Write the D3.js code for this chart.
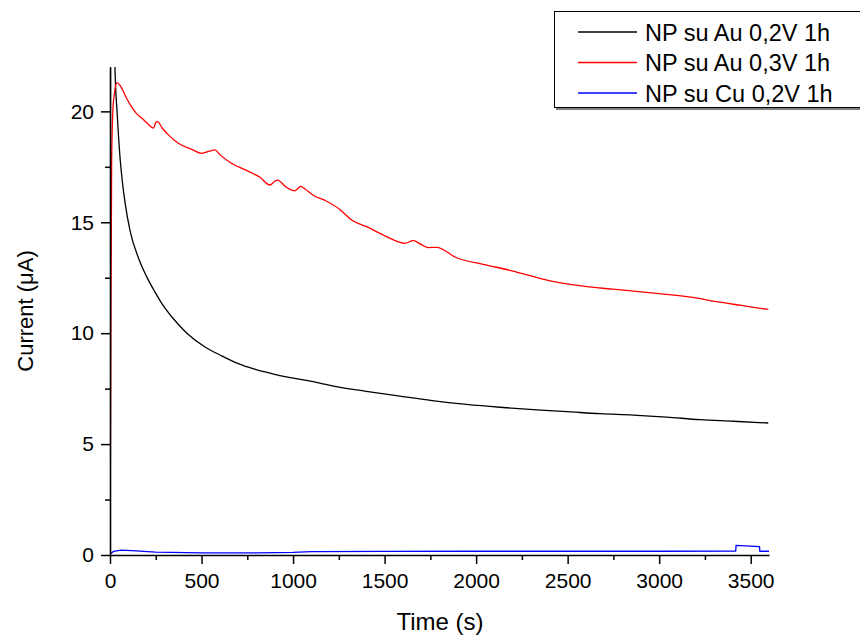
<!DOCTYPE html>
<html>
<head>
<meta charset="utf-8">
<script src="https://cdn.jsdelivr.net/npm/d3@7"></script>
<style>
  body { margin: 0; background: #fff; }
  text { font-family: Arial, "Liberation Sans", sans-serif; }
</style>
</head>
<body>
<div id="chart"></div>
<script>
// series: [time (s), current (uA)]
var auLow = [
    [0, 0], [3, 26], [8, 30], [18, 26], [27, 22], [40, 19.8], [55, 17.9], [68, 16.8],
    [82, 15.9], [110, 14.6], [155, 13.4], [200, 12.55], [246, 11.85], [290, 11.25],
    [337, 10.74], [420, 10.0], [519, 9.38], [610, 8.98], [701, 8.63], [790, 8.38],
    [883, 8.18], [970, 8.02], [1065, 7.88], [1140, 7.76], [1220, 7.61], [1400, 7.38],
    [1584, 7.16], [1760, 6.96], [1948, 6.79], [2130, 6.66], [2312, 6.55], [2500, 6.46],
    [2676, 6.37], [2858, 6.31], [3040, 6.22], [3222, 6.10], [3404, 6.03], [3596, 5.95]
];

var auHigh = [
    [0, 0], [4, 8], [9, 17.8], [16, 20.1], [24, 20.8], [38, 21.3], [64, 21.05],
    [90, 20.6], [118, 20.2], [145, 19.9], [173, 19.7], [205, 19.45], [237, 19.24],
    [250, 19.5], [260, 19.54], [285, 19.25], [319, 18.94], [373, 18.56], [446, 18.29],
    [501, 18.11], [540, 18.2], [573, 18.26], [600, 18.05], [665, 17.65], [746, 17.34],
    [819, 17.03], [874, 16.68], [900, 16.85], [916, 16.9], [960, 16.6], [1010, 16.42],
    [1043, 16.62], [1065, 16.5], [1110, 16.22], [1183, 15.95], [1256, 15.58],
    [1320, 15.1], [1402, 14.8], [1511, 14.35], [1611, 14.05], [1657, 14.17],
    [1700, 14.0], [1738, 13.86], [1784, 13.87], [1893, 13.4], [2039, 13.1],
    [2203, 12.8], [2300, 12.58], [2403, 12.36], [2585, 12.12], [2858, 11.9],
    [3000, 11.78], [3186, 11.61], [3313, 11.42], [3450, 11.25], [3596, 11.07]
];

var cuLow = [
    [0, 0.05], [20, 0.16], [60, 0.22], [120, 0.2], [250, 0.13], [500, 0.1],
    [800, 0.1], [1000, 0.12], [1100, 0.15], [1500, 0.16], [2000, 0.17],
    [2500, 0.17], [3000, 0.17], [3418, 0.18], [3420, 0.43], [3548, 0.38],
    [3550, 0.17], [3600, 0.17]
];

var seriesNames = ["NP su Au 0,2V 1h", "NP su Au 0,3V 1h", "NP su Cu 0,2V 1h"];
var seriesColors = ["#000000", "#ff0000", "#0000ff"];
var seriesData = [auLow, auHigh, cuLow];

var xMajor = d3.range(0, 3501, 500);
var xMinor = d3.range(250, 3600, 500);
var yMajor = d3.range(0, 21, 5);
var yMinor = d3.range(2.5, 22, 5);

var width = 860, height = 635;
var margin = {left: 110, right: 91, top: 67, bottom: 80};

var svg = d3.select("#chart").append("svg")
    .attr("width", width)
    .attr("height", height);

var x = d3.scaleLinear().domain([0, 3600]).range([margin.left, width - margin.right]);
var y = d3.scaleLinear().domain([0, 22]).range([height - margin.bottom, margin.top]);

svg.append("clipPath").attr("id", "plot-clip")
    .append("rect")
    .attr("x", margin.left)
    .attr("y", margin.top)
    .attr("width", x.range()[1] - margin.left + 2)
    .attr("height", y.range()[0] - margin.top);

// curves
var line = d3.line()
    .x(d => x(d[0]))
    .y(d => y(d[1]));

var plot = svg.append("g").attr("clip-path", "url(#plot-clip)");

seriesData.forEach(function(data, i) {
    plot.append("path")
        .datum(data)
        .attr("fill", "none")
        .attr("stroke", seriesColors[i])
        .attr("stroke-width", 1.3)
        .attr("d", line.curve(i == 2 ? d3.curveLinear : d3.curveMonotoneX));
});

// axes
svg.append("g")
    .attr("transform", `translate(0,${y(0)})`)
    .call(d3.axisBottom(x).tickValues(xMajor).tickFormat(d3.format("d"))
        .tickSize(9).tickSizeOuter(0).tickPadding(9));

svg.append("g")
    .attr("transform", `translate(0,${y(0)})`)
    .call(d3.axisBottom(x).tickValues(xMinor).tickSize(5).tickSizeOuter(0).tickFormat(""))
    .select(".domain").remove();

svg.append("g")
    .attr("transform", `translate(${x(0)},0)`)
    .call(d3.axisLeft(y).tickValues(yMajor).tickFormat(d3.format("d"))
        .tickSize(9).tickSizeOuter(0).tickPadding(7));

svg.append("g")
    .attr("transform", `translate(${x(0)},0)`)
    .call(d3.axisLeft(y).tickValues(yMinor).tickSize(5).tickSizeOuter(0).tickFormat(""))
    .select(".domain").remove();

svg.selectAll(".domain").attr("stroke-width", 1.6);
svg.selectAll(".tick line").attr("stroke-width", 1.5);
svg.selectAll(".tick text")
    .attr("font-size", "21px")
    .attr("font-family", "Arial, 'Liberation Sans', sans-serif")
    .attr("fill", "#000");

// axis titles
svg.append("text")
    .attr("x", 440)
    .attr("y", 630)
    .attr("text-anchor", "middle")
    .attr("font-size", "24px")
    .text("Time (s)");

svg.append("text")
    .attr("transform", "translate(33,311) rotate(-90)")
    .attr("text-anchor", "middle")
    .attr("font-size", "22px")
    .text("Current (\u03bcA)");

// legend
var legend = svg.append("g");

legend.append("rect")
    .attr("x", 556)
    .attr("y", 13)
    .attr("width", 320)
    .attr("height", 97)
    .attr("fill", "#808080");

legend.append("rect")
    .attr("x", 554.5)
    .attr("y", 11.5)
    .attr("width", 320)
    .attr("height", 96)
    .attr("fill", "#fff")
    .attr("stroke", "#000")
    .attr("stroke-width", 1);

seriesNames.forEach(function(name, i) {
    var ly = 32 + i * 30.5;
    legend.append("line")
        .attr("x1", 578)
        .attr("x2", 637)
        .attr("y1", ly)
        .attr("y2", ly)
        .attr("stroke", seriesColors[i])
        .attr("stroke-width", 1.3);

    legend.append("text")
        .attr("x", 645)
        .attr("y", ly + 8.5)
        .attr("font-size", "23.5px")
        .text(name);
});
</script>
</body>
</html>
